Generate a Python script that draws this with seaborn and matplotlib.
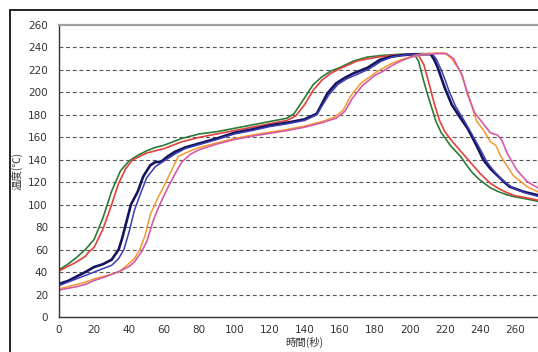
import matplotlib
matplotlib.use("Agg")
import matplotlib.pyplot as plt
from matplotlib.lines import Line2D
from matplotlib.ticker import MultipleLocator
import seaborn as sns
import pandas as pd

# ---- data ----
green_t = [0, 5, 10, 15, 20, 25, 30, 35, 40, 45, 50, 55, 60, 65, 70, 75, 80, 90, 100, 110, 120, 130, 134,
           140, 145, 150, 155, 160, 168, 176, 185, 195, 200, 203, 205, 208, 210, 212, 215, 218, 220, 223,
           226, 229, 233, 236, 240, 246, 250, 255, 260, 267, 273, 285]
green_v = [42, 47, 53, 60, 69, 88, 112, 130, 139, 144, 148, 151, 153, 156, 159, 161, 163, 165, 168, 171, 174,
           177, 181, 195, 207, 214, 219, 222, 228, 231.5, 233, 234, 234, 233, 228, 210, 199, 189, 174, 164,
           160, 153, 148, 143, 134, 128, 122, 115, 112, 109, 107, 105, 103, 101]

red_t = [0, 5, 10, 15, 17, 20, 25, 30, 34, 38, 42, 50, 60, 70, 80, 90, 100, 110, 120, 130, 135, 140, 145,
         150, 155, 160, 170, 180, 190, 200, 205, 208, 211, 214, 217, 220, 225, 230, 235, 240, 246, 250,
         255, 260, 267, 273, 285]
red_v = [41, 45, 49, 54, 58, 62, 78, 100, 119, 132, 140, 146, 150, 156, 160, 163, 166, 169, 172, 175, 179,
         189, 202, 211, 217, 221, 228, 231, 233, 234, 233, 225, 208, 190, 175, 165, 155, 146, 137, 128,
         119, 115, 111, 108, 106, 104, 102]

navy_t = [0, 5, 10, 15, 20, 25, 30, 34, 36, 38, 41, 45, 48, 52, 55, 58, 62, 66, 72, 81, 90, 100, 110, 120,
          130, 140, 147, 150, 153, 158, 163, 168, 176, 183, 190, 195, 202, 212, 214, 216, 218, 220, 224,
          229, 233, 238, 242, 246, 250, 254, 257, 265, 273, 285]
navy_v = [29.5, 32, 36, 40, 44.5, 47, 51, 60, 70, 82, 100, 112, 125, 135, 138, 138, 143, 147, 151, 155, 159,
          164, 167, 170.5, 173, 176, 181, 190, 199, 208, 213, 217, 222, 229, 232, 233, 234, 234, 229, 222,
          213, 204, 189, 177, 168, 153, 140, 132, 126, 120, 116, 111.5, 108.5, 106]

blue_t = [0, 5, 10, 15, 20, 25, 30, 34, 37, 40, 43, 47, 50, 55, 60, 66, 72, 81, 90, 100, 110, 120, 130, 140,
          147, 150, 154, 159, 164, 170, 177, 184, 190, 196, 202, 213, 215, 218, 220, 222, 226, 231, 235,
          240, 244, 248, 252, 256, 260, 267, 273, 285]
blue_v = [28, 31, 34, 37, 40, 43, 46, 52, 60, 76, 95, 112, 124, 134, 139, 145, 150, 154, 158, 163, 166, 169.5,
          172, 175, 180, 188, 198, 207, 212, 216, 221, 228, 231.5, 233, 234, 234, 230, 220, 212, 203, 188,
          175, 164, 150, 138, 130, 123, 118, 114, 110, 107.5, 105]

orange_t = [0, 5, 10, 15, 20, 25, 30, 34, 38, 43, 46, 49, 52, 56, 60, 64, 68, 75, 80, 90, 100, 110, 120, 130,
            140, 150, 157, 162, 166, 172, 180, 183, 190, 195, 200, 206, 215, 220, 224, 229, 233, 236, 238,
            243, 246, 249, 252, 259, 267, 273, 285]
orange_v = [25, 27, 29, 31, 34, 36, 38, 40, 45, 52, 60, 72, 91, 105, 117, 130, 143, 148, 151, 155, 159, 162,
            164.5, 167, 170, 174, 178, 184, 196, 208, 217, 220, 226, 229, 231.5, 234, 235, 235, 230, 218, 200,
            185, 175, 164, 156, 153, 143, 126, 116, 111.5, 107]

pink_t = [0, 5, 10, 15, 20, 25, 30, 35, 40, 43, 47, 50, 54, 58, 62, 66, 70, 75, 80, 90, 100, 110, 120, 130,
          140, 150, 158, 163, 167, 173, 180, 185, 190, 195, 200, 206, 215, 221, 225, 230, 233, 237, 242,
          246, 250, 252.5, 255.5, 261, 267, 273, 285]
pink_v = [24, 25.5, 27, 29, 32.5, 35, 38, 41, 45, 49, 58, 67, 87, 102, 115, 127, 138, 145, 149, 154, 158,
          161, 163.5, 166, 169, 173, 177, 183, 194, 206, 215, 219, 224, 228, 231, 233.5, 234.5, 234.5,
          230, 215, 198, 182, 172, 164, 162, 157.5, 146, 131, 120.5, 115, 110]

series_names = ["green", "red", "navy", "blue", "orange", "pink"]
series_colors = ["#2b7a38", "#e2403a", "#15155e", "#3a3ab4", "#f29a2e", "#d45aa8"]
series_widths = [1.2, 1.2, 1.9, 1.1, 1.1, 1.2]

x_ticks = list(range(0, 281, 20))
y_ticks = list(range(0, 261, 20))
x_label = "時間(秒)"
y_label = "温度(℃)"

# ---- build dataframe ----
all_t = [green_t, red_t, navy_t, blue_t, orange_t, pink_t]
all_v = [green_v, red_v, navy_v, blue_v, orange_v, pink_v]
frames = []
for name, t, v in zip(series_names, all_t, all_v):
    frames.append(pd.DataFrame({"time": t, "temp": v, "series": name}))
df = pd.concat(frames, ignore_index=True)

sns.set_style("white")
plt.rcParams["font.family"] = ["Noto Sans CJK JP", "DejaVu Sans"]

W, H = 538, 352
fig = plt.figure(figsize=(W / 100, H / 100), dpi=100)
fig.patch.set_facecolor("white")

left_px, right_px, top_px, bottom_px = 59, 550, 25, 317
ax = fig.add_axes([left_px / W, (H - bottom_px) / H, (right_px - left_px) / W, (bottom_px - top_px) / H])

for name, col, lw in zip(series_names, series_colors, series_widths):
    sns.lineplot(data=df[df["series"] == name], x="time", y="temp", color=col, linewidth=lw,
                 estimator=None, sort=False, ax=ax, legend=False)

ax.set_xlim(0, 280)
ax.set_ylim(0, 260)
ax.set_xticks(x_ticks)
ax.set_yticks(y_ticks)
ax.xaxis.set_minor_locator(MultipleLocator(10))
ax.tick_params(axis="x", which="both", direction="in", length=3, width=0.8, color="#333333",
               labelsize=7.5, labelcolor="#333333", pad=6)
ax.tick_params(axis="y", which="major", direction="out", length=3, width=0.8, color="#333333",
               labelsize=7.5, labelcolor="#333333", pad=5)
for lab in ax.get_xticklabels() + ax.get_yticklabels():
    lab.set_fontfamily(["DejaVu Sans"])

for y in y_ticks[1:-1]:
    ax.axhline(y, color="#555555", linewidth=0.8, linestyle=(0, (3.5, 2.5)), zorder=0)

ax.spines["left"].set_color("#333333")
ax.spines["left"].set_linewidth(1.0)
ax.spines["bottom"].set_color("#333333")
ax.spines["bottom"].set_linewidth(1.0)
ax.spines["top"].set_color("#a0a0a0")
ax.spines["top"].set_linewidth(1.6)
ax.spines["right"].set_visible(False)

ax.set_xlabel(x_label, fontsize=7.5, color="#333333", labelpad=1)
ax.set_ylabel(y_label, fontsize=7.5, color="#333333", labelpad=4)

# outer frame (cropped chart border)
fig.add_artist(Line2D([10 / W, 1.0], [(H - 10) / H, (H - 10) / H], transform=fig.transFigure,
                      color="#111111", linewidth=1.3))
fig.add_artist(Line2D([10 / W, 10 / W], [0, (H - 10) / H], transform=fig.transFigure,
                      color="#111111", linewidth=1.3))

fig.savefig("out.png", dpi=100)
